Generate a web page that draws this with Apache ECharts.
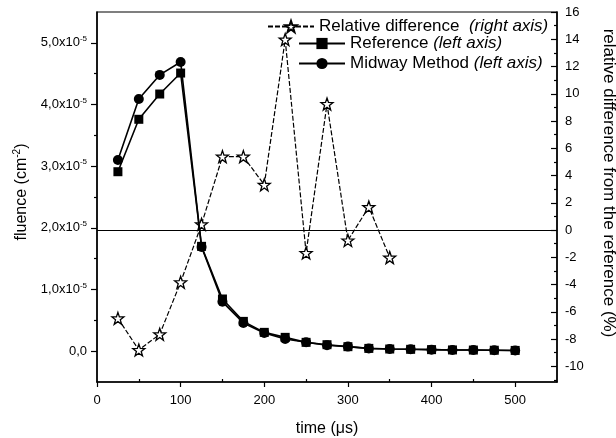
<!DOCTYPE html>
<html>
<head>
<meta charset="utf-8">
<script src="https://cdn.jsdelivr.net/npm/echarts@6/dist/echarts.min.js"></script>
<style>
  html, body { margin: 0; padding: 0; background: #fff; }
  #chart { width: 616px; height: 438px; }
</style>
</head>
<body>
<div id="chart"></div>
<script>
// time in microseconds
const timeUs = [25, 50, 75, 100, 125, 150, 175, 200, 225, 250, 275, 300, 325, 350,
                375, 400, 425, 450, 475, 500];
// fluence values in units of 1e-5 cm^-2
const referenceFluence = [2.91, 3.76, 4.17, 4.51, 1.70, 0.846, 0.483, 0.305, 0.224, 0.143,
                          0.105, 0.073, 0.045, 0.035, 0.030, 0.025, 0.020, 0.018, 0.015, 0.012];
const midwayFluence = [3.10, 4.09, 4.48, 4.69, 1.69, 0.80, 0.458, 0.295, 0.196, 0.145,
                       0.096, 0.074, 0.044, 0.036, 0.030, 0.025, 0.020, 0.018, 0.015, 0.012];
// relative difference (%) for the first 14 time points
const relDiffTime = [25, 50, 75, 100, 125, 150, 175, 200, 225, 250, 275, 300, 325, 350];
const relDiffPct = [-6.48, -8.80, -7.65, -3.83, 0.42, 5.39, 5.39, 3.32, 13.98, -1.68,
                    9.25, -0.76, 1.69, -2.02];

const xMajor = [0, 100, 200, 300, 400, 500];
const xMinor = [50, 150, 250, 350, 450];
const leftMajor = [0, 1, 2, 3, 4, 5];
const leftMinor = [0.5, 1.5, 2.5, 3.5, 4.5];
const rightMajor = [-10, -8, -6, -4, -2, 0, 2, 4, 6, 8, 10, 12, 14, 16];
const rightMinor = [-11, -9, -7, -5, -3, -1, 1, 3, 5, 7, 9, 11, 13, 15];

const FONT = "'Liberation Sans', Arial, sans-serif";
const STAR = 'path://M50,0 L61.76,33.82 L97.55,34.55 L69.02,56.18 L79.39,90.45 L50,70 L20.61,90.45 L30.98,56.18 L2.45,34.55 L38.24,33.82 Z';

const X_MIN = 0, X_MAX = 550;
const L_MIN = -0.5, L_MAX = 5.5;
const R_MIN = -11.15, R_MAX = 16;

const pairs = (xs, ys) => xs.map((x, i) => [x, ys[i]]);

// extra axes that only carry the short minor ticks
const tickOnly = (extra) => Object.assign({
  axisLine: { show: false, onZero: false },
  axisLabel: { show: false },
  splitLine: { show: false }
}, extra);

const legendText = {
  fontFamily: FONT, color: '#000', fontSize: 17,
  rich: {
    n: { fontSize: 17, fontFamily: FONT },
    i: { fontSize: 17, fontStyle: 'italic', fontFamily: FONT }
  }
};

const chart = echarts.init(document.getElementById('chart'), null, { renderer: 'canvas' });

chart.setOption({
  animation: false,
  backgroundColor: '#fff',
  textStyle: { fontFamily: FONT, color: '#000' },
  grid: {
    left: 97, right: 59, top: 12, bottom: 56,
    outerBoundsMode: 'none', containLabel: false,
    show: true, borderColor: '#000', borderWidth: 1.2, backgroundColor: 'transparent'
  },
  legend: [
    {
      data: ['Relative difference'],
      left: 267, top: 18, padding: 0,
      itemWidth: 46, itemHeight: 14, itemGap: 4,
      formatter: '{n|Relative difference}  {i|(right axis)}',
      textStyle: legendText
    },
    {
      data: ['Reference', 'Midway Method'],
      orient: 'vertical',
      left: 298, top: 35, padding: 0,
      itemWidth: 46, itemHeight: 14, itemGap: 3,
      formatter: name => '{n|' + name + '} {i|(left axis)}',
      textStyle: legendText
    }
  ],
  xAxis: [
    {
      type: 'value', min: X_MIN, max: X_MAX,
      name: 'time (\u03bcs)', nameLocation: 'middle', nameGap: 39,
      nameTextStyle: { fontFamily: FONT, fontSize: 16, color: '#000' },
      axisLine: { onZero: false, lineStyle: { color: '#000', width: 1.5 } },
      axisTick: { customValues: xMajor, length: 5, lineStyle: { color: '#000', width: 1.2 } },
      axisLabel: { customValues: xMajor, margin: 12, fontFamily: FONT, fontSize: 13, color: '#000' },
      splitLine: { show: false }
    },
    tickOnly({
      type: 'value', min: X_MIN, max: X_MAX, position: 'bottom',
      axisTick: { customValues: xMinor, inside: true, length: 3, lineStyle: { color: '#000', width: 1.2 } }
    })
  ],
  yAxis: [
    {
      type: 'value', min: L_MIN, max: L_MAX, position: 'left',
      name: '{a|fluence (cm}{s|-2}{a|)}', nameLocation: 'middle', nameGap: 60,
      nameTextStyle: {
        fontFamily: FONT, fontSize: 16, color: '#000', padding: [0, 0, 0, 10],
        rich: { a: { fontFamily: FONT, fontSize: 16 }, s: { fontFamily: FONT, fontSize: 10, padding: [0, 0, 10, 0] } }
      },
      axisLine: { show: true, onZero: false, lineStyle: { color: '#000', width: 1.5 } },
      axisTick: { customValues: leftMajor, length: 6, lineStyle: { color: '#000', width: 1.2 } },
      axisLabel: {
        customValues: leftMajor, margin: 10, fontFamily: FONT, fontSize: 13, color: '#000',
        formatter: v => v === 0 ? '0,0' : '{m|' + v.toFixed(1).replace('.', ',') + 'x10}{s|-5}',
        rich: { m: { fontFamily: FONT, fontSize: 13 }, s: { fontFamily: FONT, fontSize: 8, padding: [0, 0, 8, 0] } }
      },
      splitLine: { show: false }
    },
    {
      type: 'value', min: R_MIN, max: R_MAX, position: 'right',
      name: 'relative difference from the reference (%)', nameLocation: 'middle', nameGap: 43, nameRotate: -90,
      nameTextStyle: { fontFamily: FONT, fontSize: 17, color: '#000', padding: [0, 28, 0, 0] },
      axisLine: { show: true, onZero: false, lineStyle: { color: '#000', width: 1.5 } },
      axisTick: { customValues: rightMajor, inside: true, length: 6, lineStyle: { color: '#000', width: 1.2 } },
      axisLabel: { customValues: rightMajor, margin: 8, fontFamily: FONT, fontSize: 13, color: '#000' },
      splitLine: { show: false }
    },
    tickOnly({
      type: 'value', min: L_MIN, max: L_MAX, position: 'left',
      axisTick: { customValues: leftMinor, length: 3, lineStyle: { color: '#000', width: 1.2 } }
    }),
    tickOnly({
      type: 'value', min: R_MIN, max: R_MAX, position: 'right',
      axisTick: { customValues: rightMinor, inside: true, length: 3, lineStyle: { color: '#000', width: 1.2 } }
    })
  ],
  series: [
    {
      name: 'Relative difference',
      type: 'line', xAxisIndex: 0, yAxisIndex: 1, z: 3,
      data: pairs(relDiffTime, relDiffPct),
      symbol: STAR, symbolSize: 12,
      itemStyle: { color: '#fff', borderColor: '#000', borderWidth: 1.3 },
      lineStyle: { color: '#000', width: 1.2, type: [5, 2] },
      markLine: {
        silent: true, symbol: 'none', label: { show: false },
        lineStyle: { color: '#000', width: 1.2, type: 'solid' },
        data: [{ yAxis: 0 }]
      }
    },
    {
      name: 'Reference',
      type: 'line', xAxisIndex: 0, yAxisIndex: 0, z: 4,
      data: pairs(timeUs, referenceFluence),
      symbol: 'rect', symbolSize: 9,
      itemStyle: { color: '#000' },
      lineStyle: { color: '#000', width: 1.6 }
    },
    {
      name: 'Midway Method',
      type: 'line', xAxisIndex: 0, yAxisIndex: 0, z: 4,
      data: pairs(timeUs, midwayFluence),
      symbol: 'circle', symbolSize: 10,
      itemStyle: { color: '#000' },
      lineStyle: { color: '#000', width: 1.6 }
    }
  ]
});
</script>
</body>
</html>
